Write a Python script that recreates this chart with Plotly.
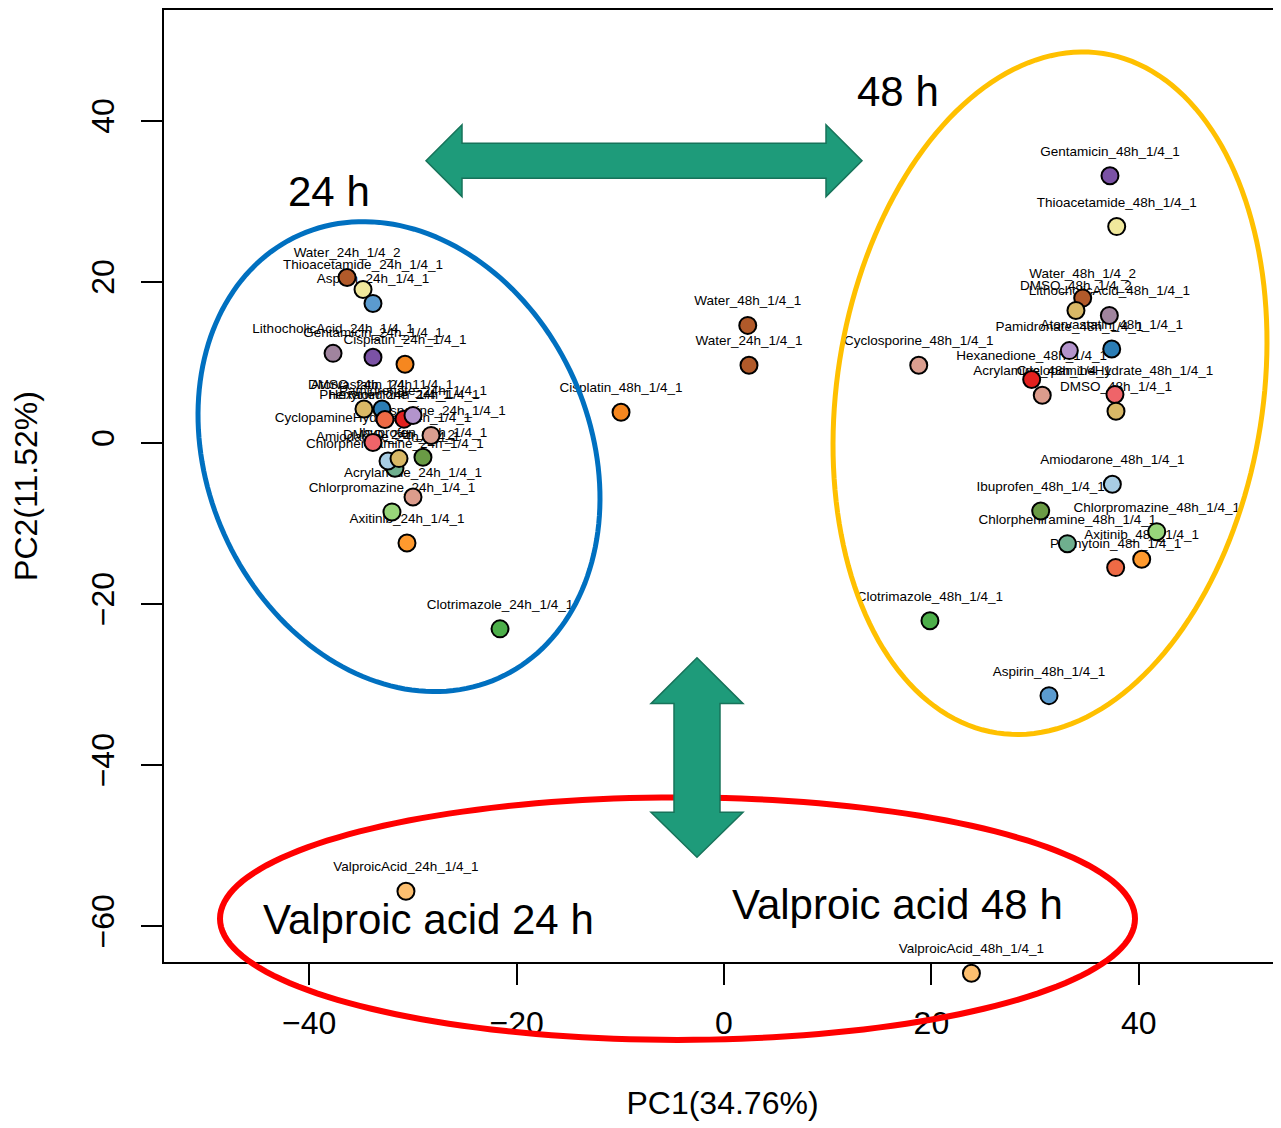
import numpy as np
import plotly.graph_objects as go

# ---------------- data ----------------
samples = [
    "Water_24h_1/4_2", "Thioacetamide_24h_1/4_1", "Aspirin_24h_1/4_1",
    "LithocholicAcid_24h_1/4_1", "Gentamicin_24h_1/4_1", "Cisplatin_24h_1/4_1",
    "DMSO_24h_1/4_1", "Atorvastatin_24h_1/4_1", "Phenytoin_24h_1/4_1",
    "Hexanedione_24h_1/4_1", "Pamidronate_24h_1/4_1", "CyclopamineHydrate_24h_1/4_1",
    "Cyclosporine_24h_1/4_1", "Chlorpheniramine_24h_1/4_1", "Amiodarone_24h_1/4_1",
    "DMSO_24h_1/4_2", "Ibuprofen_24h_1/4_1", "Acrylamide_24h_1/4_1",
    "Chlorpromazine_24h_1/4_1", "Axitinib_24h_1/4_1", "Clotrimazole_24h_1/4_1",
    "Water_24h_1/4_1", "ValproicAcid_24h_1/4_1",
    "Gentamicin_48h_1/4_1", "Thioacetamide_48h_1/4_1", "Water_48h_1/4_2",
    "DMSO_48h_1/4_2", "LithocholicAcid_48h_1/4_1", "Pamidronate_48h_1/4_1",
    "Atorvastatin_48h_1/4_1", "Hexanedione_48h_1/4_1", "Acrylamide_48h_1/4_1",
    "CyclopamineHydrate_48h_1/4_1", "DMSO_48h_1/4_1", "Cyclosporine_48h_1/4_1",
    "Amiodarone_48h_1/4_1", "Ibuprofen_48h_1/4_1", "Chlorpheniramine_48h_1/4_1",
    "Chlorpromazine_48h_1/4_1", "Axitinib_48h_1/4_1", "Phenytoin_48h_1/4_1",
    "Clotrimazole_48h_1/4_1", "Aspirin_48h_1/4_1", "Water_48h_1/4_1",
    "Cisplatin_48h_1/4_1", "ValproicAcid_48h_1/4_1",
]
pc1 = [
    -36.35, -34.81, -33.85,
    -37.70, -33.85, -30.76,
    -34.72, -32.98, -32.69,
    -30.86, -29.99, -33.85,
    -28.25, -31.73, -32.40,
    -31.34, -29.03, -29.99,
    -32.02, -30.57, -21.60,
    2.41, -30.67,
    37.22, 37.87, 34.59,
    33.94, 37.16, 33.30,
    37.39, 29.67, 30.69,
    37.70, 37.80, 18.78,
    37.45, 30.54, 33.11,
    41.73, 40.28, 37.77,
    19.86, 31.34, 2.29,
    -9.93, 23.86,
]
pc2 = [
    20.53, 19.04, 17.31,
    11.11, 10.62, 9.75,
    4.20, 4.20, 2.90,
    2.94, 3.40, 0.05,
    0.92, -3.15, -2.26,
    -1.96, -1.80, -6.72,
    -8.58, -12.43, -23.10,
    9.63, -55.68,
    33.17, 26.85, 17.97,
    16.44, 15.82, 11.45,
    11.65, 7.86, 5.91,
    6.00, 3.93, 9.63,
    -5.15, -8.46, -12.52,
    -11.03, -14.45, -15.49,
    -22.09, -31.39, 14.58,
    3.80, -65.87,
]
compound_colors = {
    "Water": "#B15A2A", "Thioacetamide": "#F0E89C", "Aspirin": "#5B9BCF",
    "LithocholicAcid": "#A0849E", "Gentamicin": "#7B52A5", "Cisplatin": "#F6871F",
    "DMSO": "#D9B866", "Atorvastatin": "#2B7DB5", "Phenytoin": "#EE6A45",
    "Hexanedione": "#E3211F", "Pamidronate": "#B394CC", "CyclopamineHydrate": "#EF6469",
    "Cyclosporine": "#DA9E8F", "Chlorpheniramine": "#6FAF8E", "Amiodarone": "#A8CDE4",
    "Ibuprofen": "#6A9B45", "Acrylamide": "#DC9C8C", "Chlorpromazine": "#98D57A",
    "Axitinib": "#FF9A2E", "Clotrimazole": "#4DAF4A", "ValproicAcid": "#FDBF6F",
}
x_ticks = [-40, -20, 0, 20, 40]
y_ticks = [-60, -40, -20, 0, 20, 40]
x_title = "PC1(34.76%)"
y_title = "PC2(11.52%)"
group_labels = ["24 h", "48 h", "Valproic acid 24 h", "Valproic acid 48 h"]

colors = [compound_colors[s.split("_")[0]] for s in samples]

# ---------------- geometry ----------------
# The page adds an 8 px body margin; page pixel = figure pixel + 8.
OFF = 8
W, H = 1273, 1120
ML, MR, MT, MB = 156, 0, 0, 130          # paper area: page x 164..1281, page y 8..998
PW, PH = W - ML - MR, H - MT - MB
AX_BOTTOM_PAGE = 962                      # bottom spine of the visible box (page px)
Y_DOMAIN = [(H - MB - (AX_BOTTOM_PAGE - OFF)) / PH, 1]

PX_PER_X, X0_PAGE = 10.37, 724.0
PX_PER_Y, Y0_PAGE = 8.07, 441.7
X_RANGE = [(ML + OFF - X0_PAGE) / PX_PER_X, (W - MR + OFF - X0_PAGE) / PX_PER_X]
Y_RANGE = [(Y0_PAGE - AX_BOTTOM_PAGE) / PX_PER_Y, (Y0_PAGE - (MT + OFF)) / PX_PER_Y]
Y2_RANGE = [(Y0_PAGE - (H - MB + OFF)) / PX_PER_Y, Y_RANGE[1]]
FONT = "Liberation Sans, Arial, Helvetica, sans-serif"


def fx(px):
    return (px - OFF - ML) / PW


def fy(py):
    return (H - MB - (py - OFF)) / PH


def poly_path(pts):
    s = "M " + " L ".join(f"{fx(a):.5f},{fy(b):.5f}" for a, b in pts)
    return s + " Z"


def ellipse_path(cx, cy, a, b, theta_deg, n=180):
    t = np.linspace(0, 2 * np.pi, n, endpoint=False)
    th = np.deg2rad(theta_deg)
    xs = cx + a * np.cos(th) * np.cos(t) - b * np.sin(th) * np.sin(t)
    ys = cy + a * np.sin(th) * np.cos(t) + b * np.cos(th) * np.sin(t)
    return poly_path(zip(xs, ys))


fig = go.Figure()

# empty trace keeps the visible (boxed) axes alive
fig.add_trace(go.Scatter(x=[], y=[], xaxis="x", yaxis="y", showlegend=False))
# labels (drawn beneath the markers)
fig.add_trace(go.Scatter(
    x=pc1, y=pc2, mode="markers+text", text=samples,
    textposition="top center",
    textfont=dict(family=FONT, size=13.5, color="black"),
    marker=dict(size=25, opacity=0),
    hoverinfo="skip", cliponaxis=False, showlegend=False,
    xaxis="x2", yaxis="y2",
))
# points
fig.add_trace(go.Scatter(
    x=pc1, y=pc2, mode="markers",
    marker=dict(size=17, color=colors, line=dict(color="black", width=2)),
    cliponaxis=False, showlegend=False,
    xaxis="x2", yaxis="y2",
))

shapes = []
shapes.append(dict(type="path", xref="paper", yref="paper", layer="above",
                   path=ellipse_path(399, 455.5, 243.3, 191.4, 65.9),
                   line=dict(color="#0070C0", width=5)))
shapes.append(dict(type="path", xref="paper", yref="paper", layer="above",
                   path=ellipse_path(1050, 392, 344.5, 212.9, 98.9),
                   line=dict(color="#FFC000", width=5)))
shapes.append(dict(type="path", xref="paper", yref="paper", layer="above",
                   path=ellipse_path(677.5, 918.5, 457.5, 121.5, 0),
                   line=dict(color="#FF0000", width=6)))
harrow = [(426, 159), (462, 123), (462, 141.5), (826, 141.5), (826, 123), (862, 159),
          (826, 195), (826, 176.5), (462, 176.5), (462, 195)]
varrow = [(697, 657), (743, 703), (720, 703), (720, 812), (743, 812), (697, 857),
          (651, 812), (674, 812), (674, 703), (651, 703)]
for pts in (harrow, varrow):
    shapes.append(dict(type="path", xref="paper", yref="paper", layer="above",
                       path=poly_path(pts), fillcolor="#1E9B7A",
                       line=dict(color="#17735A", width=1.5)))

annotations = []
for txt, (px, py) in zip(group_labels, [(329, 190), (898, 90), (428, 919), (897, 904)]):
    annotations.append(dict(xref="paper", yref="paper", x=fx(px), y=fy(py),
                            text=txt, showarrow=False, xanchor="center", yanchor="middle",
                            font=dict(family=FONT, size=42, color="black")))

fig.update_layout(
    width=W, height=H,
    margin=dict(l=ML, r=MR, t=MT, b=MB, pad=0),
    paper_bgcolor="white", plot_bgcolor="rgba(0,0,0,0)",
    shapes=shapes, annotations=annotations,
    font=dict(family=FONT, color="black"),
    xaxis=dict(
        range=X_RANGE, domain=[0, 1], anchor="y", tickvals=x_ticks,
        showgrid=False, zeroline=False,
        showline=True, linecolor="black", linewidth=2, mirror=True,
        ticks="outside", ticklen=21, tickwidth=1.5, tickcolor="black",
        tickfont=dict(family=FONT, size=32, color="black"), ticklabelstandoff=11,
        title=dict(text=x_title, font=dict(family=FONT, size=32, color="black"), standoff=51),
    ),
    yaxis=dict(
        range=Y_RANGE, domain=Y_DOMAIN, anchor="x", tickvals=y_ticks,
        showgrid=False, zeroline=False,
        showline=True, linecolor="black", linewidth=2, mirror=False,
        ticks="outside", ticklen=21, tickwidth=1.5, tickcolor="black", tickangle=-90,
        tickfont=dict(family=FONT, size=32, color="black"), ticklabelstandoff=14,
        title=dict(text=y_title, font=dict(family=FONT, size=32, color="black"), standoff=40),
    ),
    xaxis2=dict(range=X_RANGE, domain=[0, 1], anchor="y2", visible=False),
    yaxis2=dict(range=Y2_RANGE, domain=[0, 1], anchor="x2", visible=False),
)

fig.write_html("out.html")
